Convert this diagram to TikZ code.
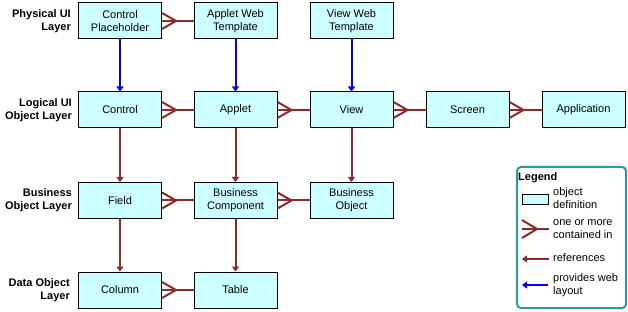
\documentclass[tikz,border=0pt]{standalone}
\usepackage{fontspec}
\setmainfont{Liberation Sans}
\usetikzlibrary{arrows.meta}
\definecolor{boxfill}{HTML}{CCFFFF}
\definecolor{dred}{HTML}{8B2A2A}
\definecolor{lblue}{HTML}{0000FF}
\definecolor{legteal}{HTML}{2E9A9A}
\tikzset{
 obj/.style={draw=black, line width=1pt, fill=boxfill, minimum width=83pt, minimum height=36pt, inner sep=0pt, align=center, font=\fontsize{11}{13}\selectfont},
 lay/.style={align=right, font=\bfseries\fontsize{11}{13}\selectfont, anchor=east, inner sep=0pt},
 legtxt/.style={align=left, font=\fontsize{11}{13}\selectfont, anchor=west, inner sep=0pt},
 refarr/.style={draw=dred, line width=2pt, -{Triangle[length=5pt,width=7pt]}},
 webarr/.style={draw=lblue, line width=2pt, -{Triangle[length=5pt,width=7pt]}},
 crow/.style={draw=dred, line width=2pt}
}
\newcommand\crowlink[2]{%
 \draw[crow] ([yshift=8pt]#1.east) -- ([xshift=14pt]#1.east) -- ([yshift=-8pt]#1.east);
 \draw[crow] (#1.east) -- (#2.west);}
\begin{document}
\begin{tikzpicture}[x=1pt,y=-1pt]
\useasboundingbox (0,0) rectangle (628,312);
% layer labels
\node[lay] (l1) at (71,21) {Physical UI\\Layer};
\node[lay] (l2) at (72,110) {Logical UI\\Object Layer};
\node[lay] (l3) at (72,200) {Business\\Object Layer};
\node[lay] (l4) at (70,290) {Data Object\\Layer};
% row 1
\node[obj] (cp) at (120,21) {Control\\Placeholder};
\node[obj] (awt) at (235.5,21) {Applet Web\\Template};
\node[obj] (vwt) at (351.5,21) {View Web\\Template};
% row 2
\node[obj] (ctl) at (120,110) {Control};
\node[obj] (app) at (235.5,110) {Applet};
\node[obj] (view) at (351.5,110) {View};
\node[obj] (scr) at (467.5,110) {Screen};
\node[obj] (appl) at (583.5,110) {Application};
% row 3
\node[obj] (fld) at (120,200.5) {Field};
\node[obj] (bc) at (235.5,200.5) {Business\\Component};
\node[obj] (bo) at (351.5,200.5) {Business\\Object};
% row 4
\node[obj] (col) at (120,290) {Column};
\node[obj] (tbl) at (235.5,290) {Table};
% web layout arrows
\draw[webarr] (cp) -- (ctl);
\draw[webarr] (awt) -- (app);
\draw[webarr] (vwt) -- (view);
% references
\draw[refarr] (ctl) -- (fld);
\draw[refarr] (app) -- (bc);
\draw[refarr] (view) -- (bo);
\draw[refarr] (fld) -- (col);
\draw[refarr] (bc) -- (tbl);
% contained in
\crowlink{cp}{awt}
\crowlink{ctl}{app}
\crowlink{app}{view}
\crowlink{view}{scr}
\crowlink{scr}{appl}
\crowlink{fld}{bc}
\crowlink{bc}{bo}
\crowlink{col}{tbl}
% legend
\draw[legteal, line width=2pt, rounded corners=4pt] (517,167) rectangle (626,308);
\node[legtxt, font=\bfseries\fontsize{11}{13}\selectfont] (lgt) at (518,178) {Legend};
\node[draw=black, line width=1pt, fill=boxfill, minimum width=26pt, minimum height=10pt, inner sep=0pt] (lgbox) at (535.5,200) {};
\node[legtxt] (lgt1) at (553,198) {object\\definition};
\coordinate (cfa) at (522,229);
\coordinate (cfb) at (549,229);
\draw[crow] ([yshift=9pt]cfa) -- ([xshift=15pt]cfa) -- ([yshift=-9pt]cfa);
\draw[crow] (cfa) -- (cfb);
\node[legtxt] (lgt2) at (553,229) {one or more\\contained in};
\coordinate (ra) at (549,259);
\coordinate (rb) at (522,259);
\draw[refarr] (ra) -- (rb);
\node[legtxt] (lgt3) at (553,258) {references};
\coordinate (wa) at (548,285);
\coordinate (wb) at (522,285);
\draw[webarr] (wa) -- (wb);
\node[legtxt] (lgt4) at (553,285) {provides web\\layout};
\end{tikzpicture}
\end{document}
